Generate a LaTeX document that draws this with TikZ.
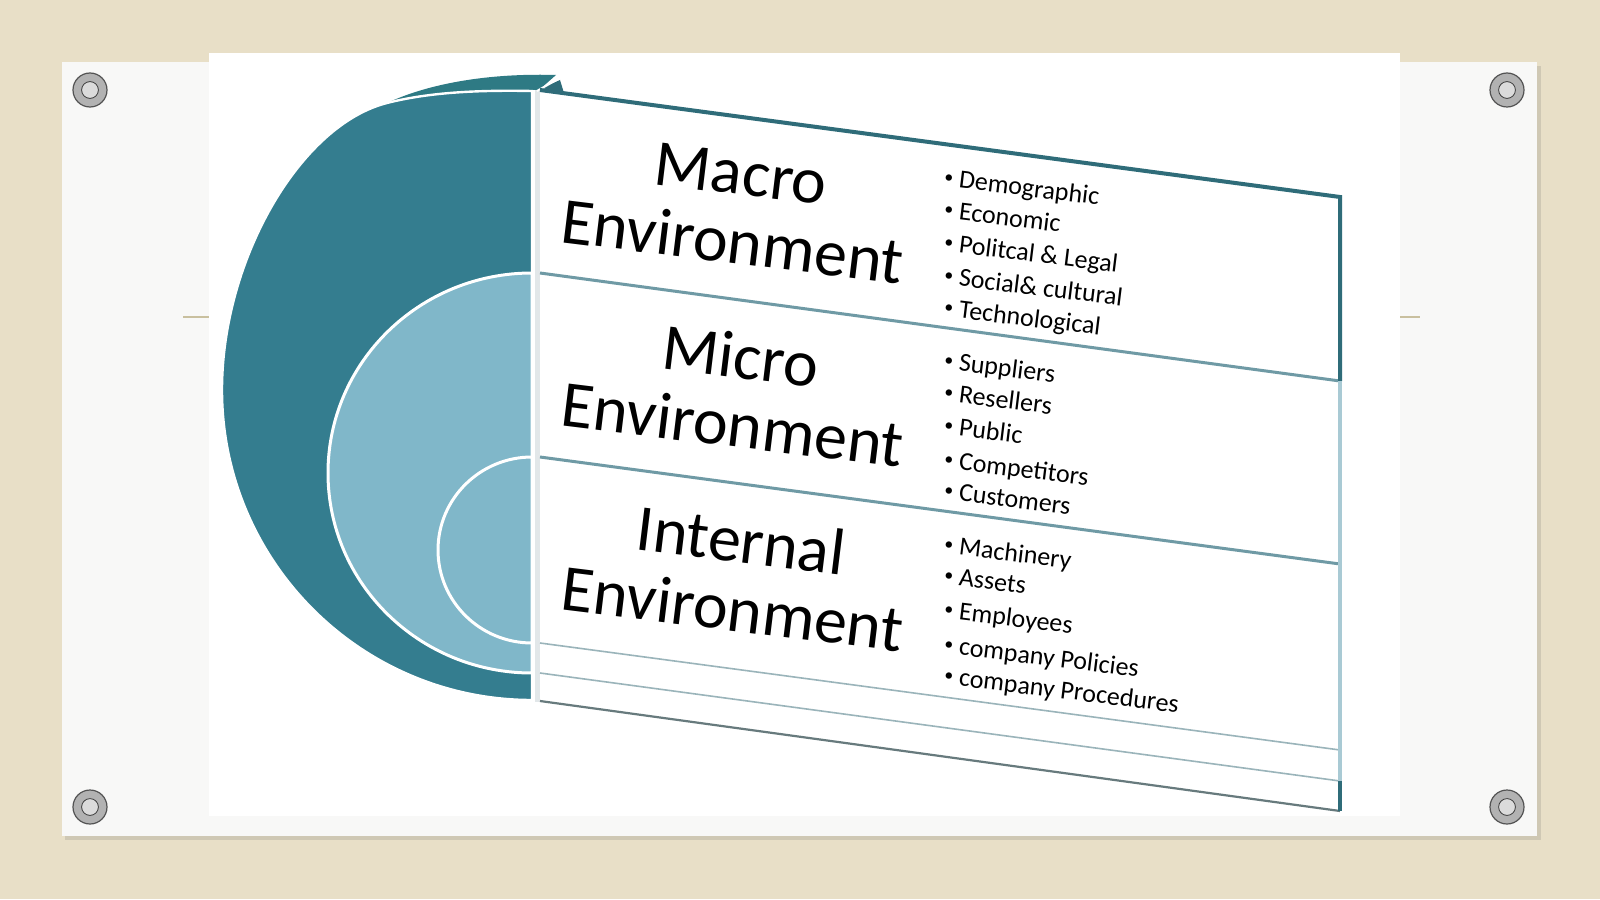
\documentclass[tikz,border=0pt]{standalone}
\usepackage{fontspec}
\setmainfont{Carlito}
\definecolor{bgbeige}{HTML}{E8DFC7}
\definecolor{boardwhite}{HTML}{F8F8F7}
\definecolor{boardshadow}{HTML}{CFC8B4}
\definecolor{tealdark}{HTML}{347D8F}
\definecolor{liddark}{HTML}{2E7A84}
\definecolor{teallight}{HTML}{80B7C9}
\definecolor{tealedge}{HTML}{2F6C79}
\definecolor{tealline}{HTML}{6F9AA5}
\definecolor{thinline}{HTML}{9AB4BA}
\definecolor{sidelight}{HTML}{A9CAD4}
\definecolor{sidegray}{HTML}{E2E7E9}
\definecolor{tickcol}{HTML}{C9C09F}

\begin{document}
\begin{tikzpicture}[x=0.5pt,y=-0.5pt,
        title/.style={align=center,rotate=-7,inner sep=0pt,
            font=\fontsize{33}{34.5}\selectfont},
        item/.style={anchor=base west,rotate=-7,inner sep=0pt,
            font=\fontsize{13}{14}\selectfont,
            execute at begin node={\makebox[7.5pt][l]{\fontsize{9}{9}\selectfont\raisebox{0.45ex}{\textbullet}}}},
        grommet/.style={circle,draw=gray!65!black,fill=gray!60,
            minimum size=17pt,inner sep=0pt,line width=0.6pt,
            path picture={\fill[gray!28] (path picture bounding box.center) circle (4.2pt);
                \draw[gray!45!black,line width=0.4pt] (path picture bounding box.center) circle (4.2pt);}}
    ]
        \useasboundingbox (0,0) rectangle (1600,899);
        \fill[bgbeige] (0,0) rectangle (1600,899);
        % board and slide
        \fill[boardshadow] (65,66) rectangle (1541,840);
        \fill[boardwhite] (62,62) rectangle (1537,836);
        \fill[white] (209,53) rectangle (1400,816);
        \draw[tickcol,line width=0.8pt] (183,317) -- (209,317);
        \draw[tickcol,line width=0.8pt] (1400,317) -- (1420,317);
        \node[grommet] (G1) at (90,90) {};
        \node[grommet] (G2) at (1507,90) {};
        \node[grommet] (G3) at (90,807) {};
        \node[grommet] (G4) at (1507,807) {};
        % half discs
        \fill[liddark] (387,103) .. controls (430,83) and (490,73) .. (556,75)
            -- (539,90) -- (532,91) .. controls (480,90) and (430,92) .. (387,103) -- cycle;
        \filldraw[fill=tealdark,draw=white,line width=1.2pt]
            (532,91) .. controls (480,90) and (430,92) .. (387,103)
            .. controls (300,125) and (222,260) .. (222,390)
            arc[start angle=180,end angle=90,radius=310] -- cycle;
        \filldraw[fill=teallight,draw=white,line width=1.5pt]
            (532,273) arc[start angle=270,end angle=90,x radius=204,y radius=200] -- cycle;
        \filldraw[fill=teallight,draw=white,line width=1.5pt]
            (532,457) arc[start angle=270,end angle=90,x radius=94,y radius=93] -- cycle;
        % box corners
        \coordinate (L0) at (540,90);
        \coordinate (L1) at (540,273);
        \coordinate (L2) at (540,457);
        \coordinate (L3) at (540,643);
        \coordinate (L4) at (540,673);
        \coordinate (L5) at (540,701);
        \coordinate (R0) at (1340,197);
        \coordinate (R1) at (1340,381);
        \coordinate (R2) at (1340,564);
        \coordinate (R3) at (1340,750);
        \coordinate (R4) at (1340,781);
        \coordinate (R5) at (1340,811);
        \fill[sidegray] (533,90) rectangle (540,702);
        \draw[white,line width=1pt] (534,90) -- (534,702);
        \fill[tealedge] (542,88) -- (560,80) -- (564,93) -- cycle;
        \draw[white,line width=1pt] (537,91) -- (558,79);
        \draw[tealline,line width=1.5pt] (L1) -- (R1);
        \draw[tealline,line width=1.5pt] (L2) -- (R2);
        \draw[thinline,line width=0.8pt] (L3) -- (R3);
        \draw[thinline,line width=0.8pt] (L4) -- (R4);
        \draw[gray!70!tealedge,line width=1.1pt] (L5) -- (R5);
        \draw[tealedge,line width=2pt] (L0) -- (R0) -- (R1);
        \draw[sidelight,line width=1.6pt] (R1) -- (R4);
        \draw[tealedge,line width=2pt] (R4) -- (R5);
        % titles
        \node[title] (MA) at (737,208) {Macro\\Environment};
        \node[title] (MI) at (737,390) {Micro\\Environment};
        \node[title] (IN) at (737,574) {Internal\\Environment};
        % macro items
        \node[item] (MA1) at (943,186) {Demographic};
        \node[item] (MA2) at (943,218) {Economic};
        \node[item] (MA3) at (943,251) {Politcal \& Legal};
        \node[item] (MA4) at (943,284) {Social\& cultural};
        \node[item] (MA5) at (943,316) {Technological};
        % micro items
        \node[item] (MI1) at (943,369) {Suppliers};
        \node[item] (MI2) at (943,401) {Resellers};
        \node[item] (MI3) at (943,434) {Public};
        \node[item] (MI4) at (943,468) {Competitors};
        \node[item] (MI5) at (943,499) {Customers};
        % internal items
        \node[item] (IN1) at (943,553) {Machinery};
        \node[item] (IN2) at (943,584) {Assets};
        \node[item] (IN3) at (943,618) {Employees};
        \node[item] (IN4) at (943,653) {company Policies};
        \node[item] (IN5) at (943,684) {company Procedures};
    \end{tikzpicture}
\end{document}
